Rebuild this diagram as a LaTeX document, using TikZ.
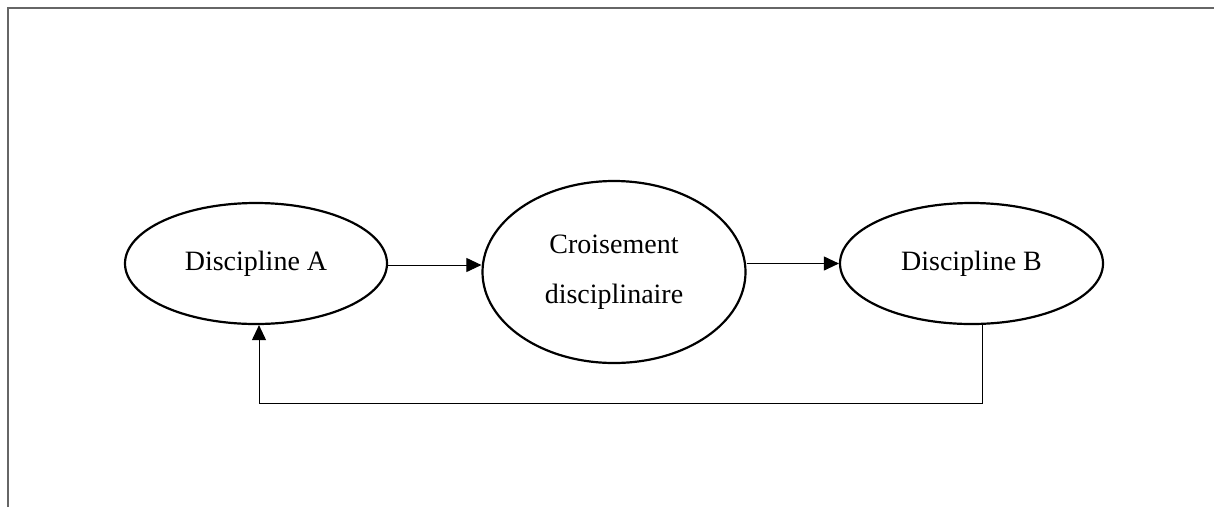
\documentclass[tikz,border=0pt]{standalone}
\usepackage{fontspec}
\setmainfont{Liberation Serif}
\usetikzlibrary{shapes.geometric,arrows.meta}
\begin{document}
\begin{tikzpicture}[x=1pt,y=-1pt,
  oval/.style={draw,line width=2.2pt,ellipse,inner sep=0pt,font=\fontsize{28}{50}\selectfont,align=center},
  link/.style={line width=1pt,-{Triangle[length=15pt,width=14pt]}},
  frame/.style={draw=gray!80!black,line width=2pt}]
\useasboundingbox (0,0) rectangle (1214,507);
\draw[frame] (8,507) -- (8,7.5) -- (1214,7.5);
\node[oval,minimum width=262pt,minimum height=121pt] (A) at (256,263.5) {Discipline A};
\node[oval,minimum width=263pt,minimum height=182pt] (C) at (614,272) {Croisement\\disciplinaire};
\node[oval,minimum width=263pt,minimum height=121pt] (B) at (971.5,263.5) {Discipline B};
\draw[link] (A.east |- 0,265) -- (C.west |- 0,265);
\draw[link] (C.east |- 0,263.5) -- (B.west);
\coordinate (r1) at (982,403);
\coordinate (r2) at (259,403);
\draw[link] (B.south -| r1) -- (r1) -- (r2) -- (A.south -| r2);
\end{tikzpicture}
\end{document}
